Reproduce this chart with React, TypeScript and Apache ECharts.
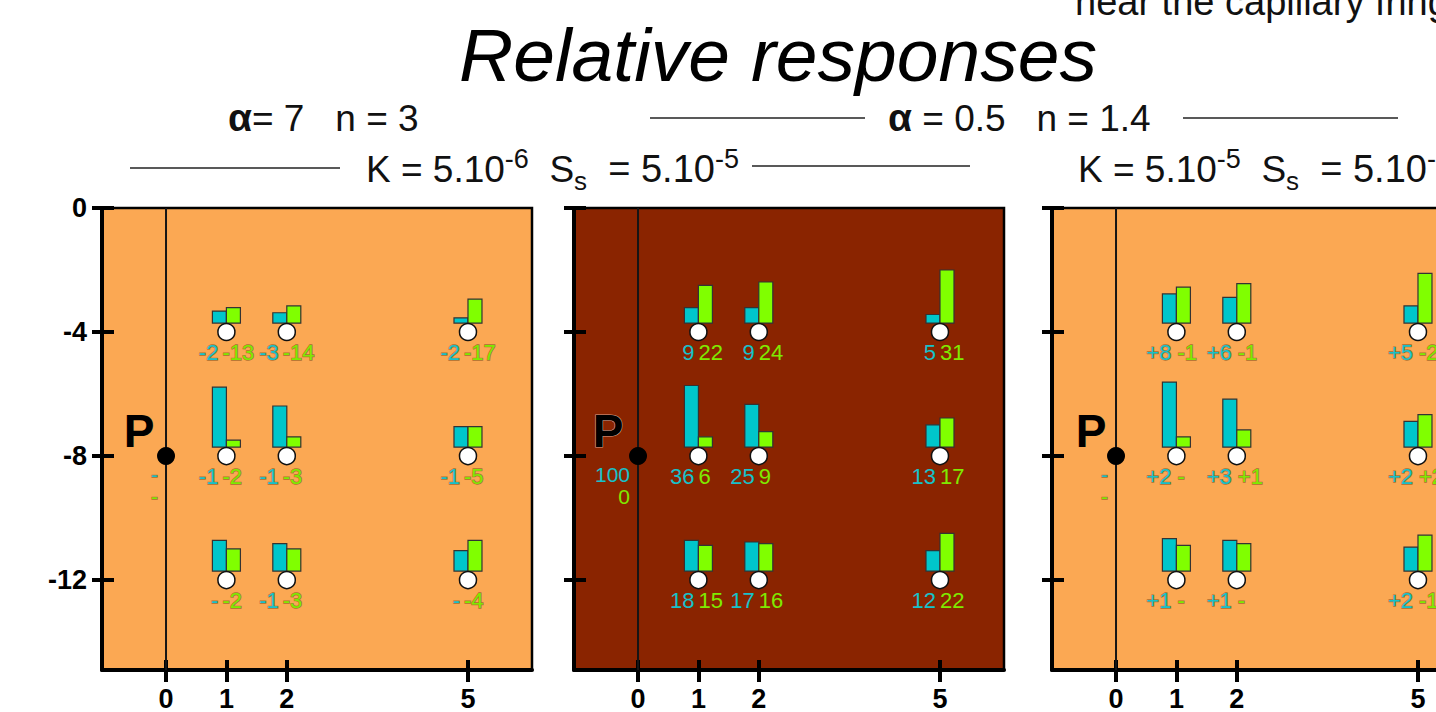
import React, { useEffect, useRef } from "react";
import * as echarts from "echarts";

// ---- data ----
const stationX = [1, 2, 5];
const depthRows = [-4, -8, -12];
const sourcePoint = [0, -8];
const xTicks = [0, 1, 2, 5];
const yTicks = [0, -4, -8, -12];

// reference case (middle panel): rows -4, -8, -12 ; stations 1, 2, 5
const refCyan = [
  [9, 9, 5],
  [36, 25, 13],
  [18, 17, 12],
];
const refGreen = [
  [22, 24, 31],
  [6, 9, 17],
  [15, 16, 22],
];
const refSourceCyan = 100;
const refSourceGreen = 0;

// relative responses of the left panel
const leftDeltaCyan = [
  [-2, -3, -2],
  [-1, -1, -1],
  [0, -1, 0],
];
const leftDeltaGreen = [
  [-13, -14, -17],
  [-2, -3, -5],
  [-2, -3, -4],
];
// relative responses of the right panel
const rightDeltaCyan = [
  [8, 6, 5],
  [2, 3, 2],
  [1, 1, 2],
];
const rightDeltaGreen = [
  [-1, -1, -2],
  [0, 1, 2],
  [0, 0, -1],
];

// ---- styles ----
const FONT = '"Liberation Sans", Arial, Helvetica, sans-serif';
const CYAN = "#00C6CB";
const GREEN = "#80FF00";
const CYAN_T = "#16C1CA";
const GREEN_T = "#7FEA00";
const ORANGE = "#FBA853";
const BROWN = "#8A2400";
const X_MIN = -1.06;
const X_MAX = 6.06;
const Y_MIN = -14.9;
const RESP = 1.71 / 31; // depth units per response unit (bar length)

type Item = { x: number; y: number; cv: number; gv: number; cl: string; gl: string };

const fmtDelta = (d: number) => (d === 0 ? "-" : d > 0 ? "+" + d : String(d));

function buildItems(dc: number[][] | null, dg: number[][] | null): Item[] {
  const out: Item[] = [];
  depthRows.forEach((y, r) => {
    stationX.forEach((x, s) => {
      const bc = refCyan[r][s];
      const bg = refGreen[r][s];
      if (dc && dg) {
        out.push({ x, y, cv: bc + dc[r][s], gv: bg + dg[r][s], cl: fmtDelta(dc[r][s]), gl: fmtDelta(dg[r][s]) });
      } else {
        out.push({ x, y, cv: bc, gv: bg, cl: String(bc), gl: String(bg) });
      }
    });
  });
  return out;
}

const panels = [
  { left: 102, bg: ORANGE, items: buildItems(leftDeltaCyan, leftDeltaGreen), srcC: "-", srcG: "-", dxC: -8, dxG: -4, outline: true, pDx: -27, showY: true },
  { left: 574, bg: BROWN, items: buildItems(null, null), srcC: String(refSourceCyan), srcG: String(refSourceGreen), dxC: -4, dxG: 0, outline: false, pDx: -30, showY: false },
  { left: 1052, bg: ORANGE, items: buildItems(rightDeltaCyan, rightDeltaGreen), srcC: "-", srcG: "-", dxC: -5, dxG: 1, outline: true, pDx: -25, showY: false },
];

let measureCtx: CanvasRenderingContext2D | null = null;
function measure(text: string, font: string) {
  if (!measureCtx) measureCtx = document.createElement("canvas").getContext("2d");
  measureCtx!.font = font;
  return measureCtx!.measureText(text).width;
}

type Seg = { t: string; size: number; weight?: string; rise?: number; style?: string };
function segLine(x0: number, baseline: number, segs: Seg[]) {
  const els: any[] = [];
  let x = x0;
  segs.forEach((s) => {
    const font = `${s.style || "normal"} ${s.weight || "normal"} ${s.size}px ${FONT}`;
    els.push({
      type: "text",
      x,
      y: baseline - (s.rise || 0) - 0.3465 * s.size,
      silent: true,
      style: { text: s.t, font, fill: "#111", align: "left", verticalAlign: "middle" },
    });
    x += measure(s.t, font);
  });
  return els;
}

function hLine(x1: number, x2: number, y: number) {
  return { type: "line", silent: true, shape: { x1, y1: y, x2, y2: y }, style: { stroke: "#222", lineWidth: 1.5 } };
}

export default function App() {
  const ref = useRef<HTMLDivElement>(null);
  useEffect(() => {
    if (!ref.current) return;
    const chart = echarts.init(ref.current, null, { renderer: "svg" });

    const grid: any[] = [];
    const xAxis: any[] = [];
    const yAxis: any[] = [];
    const series: any[] = [];

    panels.forEach((p, i) => {
      grid.push({
        left: p.left, top: 208, width: 430, height: 462, show: true,
        backgroundColor: p.bg, borderColor: "#000", borderWidth: 2.5,
        containLabel: false, outerBoundsMode: "none",
      });
      const xb = { gridIndex: i, type: "value", min: X_MIN, max: X_MAX, position: "bottom", splitLine: { show: false } };
      xAxis.push({
        ...xb,
        axisLine: { show: true, onZero: false, lineStyle: { color: "#000", width: 4 } },
        axisTick: { show: true, customValues: xTicks, length: 12, lineStyle: { color: "#000", width: 4 } },
        axisLabel: { show: true, customValues: xTicks, fontSize: 27, fontWeight: "bold", color: "#000", fontFamily: FONT, margin: 15 },
      });
      xAxis.push({
        ...xb,
        axisLine: { show: false, onZero: false },
        axisTick: { show: true, inside: true, customValues: xTicks, length: 10, lineStyle: { color: "#000", width: 4 } },
        axisLabel: { show: false },
      });
      const yb = { gridIndex: i, type: "value", min: Y_MIN, max: 0, position: "left", splitLine: { show: false } };
      yAxis.push({
        ...yb,
        axisLine: { show: true, onZero: false, lineStyle: { color: "#000", width: 4 } },
        axisTick: { show: true, customValues: yTicks, length: 10, lineStyle: { color: "#000", width: 4 } },
        axisLabel: { show: p.showY, customValues: yTicks, fontSize: 27, fontWeight: "bold", color: "#000", fontFamily: FONT, margin: 15 },
      });
      yAxis.push({
        ...yb,
        axisLine: { show: false, onZero: false },
        axisTick: { show: true, inside: true, customValues: yTicks, length: 12, lineStyle: { color: "#000", width: 4 } },
        axisLabel: { show: false },
      });

      const xi = i * 2;
      // vertical line at x = 0 (pumping well)
      series.push({
        type: "line", xAxisIndex: xi, yAxisIndex: xi, silent: true, symbol: "none",
        data: [[0, 0], [0, Y_MIN]], lineStyle: { color: "#151515", width: 2 }, z: 2,
      });

      const textStroke = p.outline ? { stroke: "rgba(100,60,15,0.55)", lineWidth: 1.3 } : {};
      const labelFont = `normal 22px ${FONT}`;
      const srcFont = `normal 21px ${FONT}`;
      // stations
      series.push({
        type: "custom", xAxisIndex: xi, yAxisIndex: xi, silent: true, z: 3, clip: false,
        data: p.items.map((it) => [it.x, it.y]),
        renderItem: (params: any, api: any) => {
          const it = p.items[params.dataIndex];
          const pt = api.coord([api.value(0), api.value(1)]);
          const hC = api.size([0, it.cv * RESP])[1];
          const hG = api.size([0, it.gv * RESP])[1];
          const base = pt[1] - 9;
          return {
            type: "group",
            children: [
              { type: "rect", shape: { x: pt[0] - 14, y: base - hC, width: 14, height: hC }, style: { fill: CYAN, stroke: "#333", lineWidth: 1.2 } },
              { type: "rect", shape: { x: pt[0], y: base - hG, width: 14, height: hG }, style: { fill: GREEN, stroke: "#333", lineWidth: 1.2 } },
              { type: "circle", shape: { cx: pt[0], cy: pt[1], r: 8.5 }, style: { fill: "#fff", stroke: "#111", lineWidth: 1.5 } },
              { type: "text", style: { text: it.cl, x: pt[0] + p.dxC, y: pt[1] + 20, align: "right", verticalAlign: "middle", fill: CYAN_T, font: labelFont, ...textStroke } },
              { type: "text", style: { text: it.gl, x: pt[0] + p.dxG, y: pt[1] + 20, align: "left", verticalAlign: "middle", fill: GREEN_T, font: labelFont, ...textStroke } },
            ],
          };
        },
      });
      // source P
      series.push({
        type: "custom", xAxisIndex: xi, yAxisIndex: xi, silent: true, z: 4, clip: false,
        data: [sourcePoint],
        renderItem: (params: any, api: any) => {
          const pt = api.coord([api.value(0), api.value(1)]);
          return {
            type: "group",
            children: [
              { type: "circle", shape: { cx: pt[0], cy: pt[1], r: 9 }, style: { fill: "#000" } },
              {
                type: "text",
                style: {
                  text: "P", x: pt[0] + p.pDx, y: pt[1] - 25, align: "center", verticalAlign: "middle",
                  fill: "#000", font: `bold 46px ${FONT}`,
                  ...(p.outline ? {} : { stroke: "#d8a090", lineWidth: 1.2 }),
                },
              },
              { type: "text", style: { text: p.srcC, x: pt[0] - 8, y: pt[1] + 18, align: "right", verticalAlign: "middle", fill: CYAN_T, font: srcFont, ...textStroke } },
              { type: "text", style: { text: p.srcG, x: pt[0] - 8, y: pt[1] + 40, align: "right", verticalAlign: "middle", fill: GREEN_T, font: srcFont, ...textStroke } },
            ],
          };
        },
      });
    });

    const kLine = (x0: number, kExp: string, sExp: string) =>
      segLine(x0, 182, [
        { t: "K = 5.10", size: 37 }, { t: kExp, size: 27, rise: 14 },
        { t: "  S", size: 37 }, { t: "s", size: 26, rise: -8 },
        { t: "  = 5.10", size: 38 }, { t: sExp, size: 27, rise: 14 },
      ]);

    const graphic: any[] = [
      ...segLine(1075, 15, [{ t: "near the capillary fringe", size: 38 }]),
      {
        type: "text", x: 778, y: 81 - 0.3465 * 75, silent: true,
        style: { text: "Relative responses", font: `italic normal 75px ${FONT}`, fill: "#000", align: "center", verticalAlign: "middle" },
      },
      ...segLine(228, 131, [{ t: "α", size: 39, weight: "bold" }, { t: "= 7   n = 3", size: 37 }]),
      hLine(650, 865, 118),
      ...segLine(888, 131, [{ t: "α", size: 39, weight: "bold" }, { t: " = 0.5   n = 1.4", size: 37 }]),
      hLine(1183, 1398, 118),
      hLine(130, 340, 168),
      ...kLine(366, "-6", "-5"),
      hLine(752, 970, 166),
      ...kLine(1078, "-5", "-5"),
    ];

    chart.setOption({
      animation: false,
      backgroundColor: "#fff",
      grid,
      xAxis,
      yAxis,
      series,
      graphic,
    });
    return () => chart.dispose();
  }, []);
  return <div ref={ref} style={{ position: "absolute", left: 0, top: 0, width: 1436, height: 712 }} />;
}
